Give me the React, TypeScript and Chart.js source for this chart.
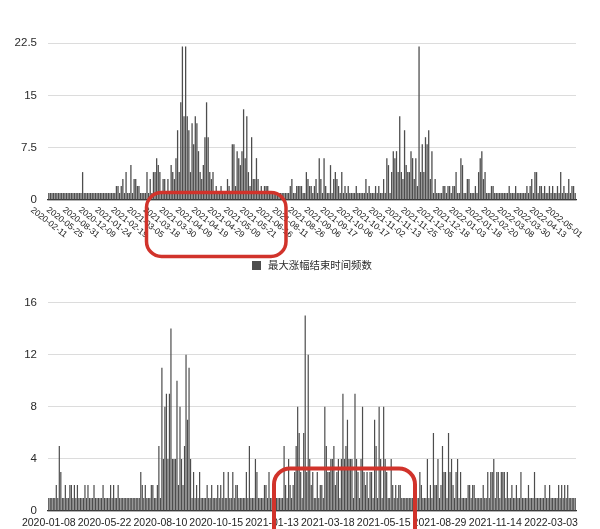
import React, { useEffect, useRef } from 'react';
import { Chart, registerables } from 'chart.js';

Chart.register(...registerables);

// ---------- data ----------
const seriesName = '最大涨幅结束时间频数';

const topTickLabels = [
  '2020-02-11', '2020-05-25', '2020-08-31', '2020-12-09', '2021-01-24', '2021-02-19',
  '2021-03-05', '2021-03-18', '2021-03-30', '2021-04-09', '2021-04-19', '2021-04-29',
  '2021-05-09', '2021-05-21', '2021-06-16', '2021-08-11', '2021-08-26', '2021-09-06',
  '2021-09-17', '2021-10-06', '2021-10-17', '2021-11-02', '2021-11-13', '2021-11-25',
  '2021-12-05', '2021-12-18', '2022-01-03', '2022-01-18', '2022-02-20', '2022-03-08',
  '2022-03-30', '2022-04-13', '2022-05-01',
];
const topTickEvery = 10;
const topValues = [
  1, 1, 1, 1, 1, 1, 1, 1, 1, 1, 1, 1, 1, 1, 1, 1, 1, 1, 1, 1,
  1, 4, 1, 1, 1, 1, 1, 1, 1, 1, 1, 1, 1, 1, 1, 1, 1, 1, 1, 1,
  1, 1, 2, 2, 1, 2, 3, 1, 4, 1, 1, 5, 1, 3, 3, 2, 2, 1, 1, 1,
  1, 4, 1, 3, 1, 4, 4, 6, 5, 4, 1, 3, 3, 1, 3, 1, 5, 4, 3, 6,
  10, 4, 14, 22, 12, 22, 12, 10, 4, 11, 8, 12, 11, 7, 4, 3, 5, 9, 14, 9,
  4, 3, 4, 1, 2, 1, 1, 2, 1, 1, 1, 3, 2, 1, 8, 8, 2, 7, 6, 5,
  7, 13, 6, 12, 4, 2, 9, 3, 3, 6, 3, 1, 2, 1, 2, 2, 2, 1, 1, 1,
  1, 1, 1, 1, 1, 1, 1, 1, 1, 1, 2, 3, 1, 1, 2, 2, 2, 2, 1, 1,
  4, 3, 2, 2, 1, 2, 3, 1, 6, 3, 1, 6, 2, 1, 1, 5, 1, 3, 4, 3,
  2, 1, 4, 1, 2, 1, 2, 1, 1, 1, 1, 2, 1, 1, 1, 1, 1, 3, 1, 2,
  1, 1, 1, 2, 1, 2, 1, 1, 3, 1, 6, 5, 1, 4, 7, 6, 7, 4, 12, 4,
  3, 10, 5, 4, 4, 7, 6, 3, 6, 2, 22, 4, 8, 4, 9, 8, 10, 3, 7, 1,
  3, 1, 1, 1, 1, 2, 2, 1, 2, 2, 1, 2, 2, 4, 1, 1, 6, 5, 1, 1,
  3, 3, 1, 1, 1, 2, 1, 4, 6, 7, 3, 4, 1, 1, 1, 2, 2, 1, 1, 1,
  1, 1, 1, 1, 1, 1, 2, 1, 1, 1, 2, 1, 1, 1, 1, 1, 1, 2, 1, 2,
  3, 1, 4, 4, 1, 2, 2, 1, 2, 1, 1, 2, 1, 2, 1, 1, 2, 1, 4, 1,
  2, 1, 1, 3, 1, 2, 2, 1,
];
const topYTicks = { max: 22.5, step: 7.5 };

const bottomTickLabels = [
  '2020-01-08', '2020-05-22', '2020-08-10', '2020-10-15', '2021-01-13',
  '2021-03-18', '2021-05-15', '2021-08-29', '2021-11-14', '2022-03-03',
];
const bottomTickEvery = 37;
const bottomValues = [
  1, 1, 1, 1, 1, 2, 1, 5, 3, 1, 1, 2, 1, 1, 2, 2, 1, 2, 1, 2,
  1, 1, 1, 1, 2, 1, 2, 1, 1, 1, 2, 1, 1, 1, 1, 1, 2, 1, 1, 1,
  1, 2, 1, 2, 1, 1, 2, 1, 1, 1, 1, 1, 1, 1, 1, 1, 1, 1, 1, 1,
  1, 3, 2, 1, 2, 1, 1, 1, 2, 2, 1, 1, 2, 5, 1, 11, 4, 8, 9, 4,
  9, 14, 4, 4, 4, 10, 2, 8, 4, 2, 5, 12, 7, 11, 4, 1, 3, 1, 2, 1,
  3, 1, 1, 1, 1, 2, 1, 1, 2, 1, 1, 1, 2, 1, 2, 1, 3, 1, 1, 3,
  1, 1, 3, 1, 2, 2, 1, 1, 1, 1, 1, 3, 1, 5, 1, 1, 1, 4, 3, 1,
  1, 1, 1, 2, 2, 1, 3, 1, 1, 1, 1, 1, 1, 1, 1, 1, 5, 2, 1, 4,
  2, 1, 2, 3, 5, 8, 6, 3, 1, 6, 15, 3, 12, 4, 2, 3, 1, 1, 3, 1,
  2, 2, 1, 8, 5, 3, 3, 4, 4, 5, 2, 3, 4, 1, 4, 9, 4, 5, 7, 4,
  4, 4, 1, 9, 4, 3, 1, 4, 8, 3, 2, 3, 1, 3, 3, 1, 7, 5, 1, 8,
  4, 1, 8, 4, 3, 1, 1, 4, 2, 1, 2, 1, 2, 2, 1, 1, 1, 1, 1, 1,
  1, 1, 1, 1, 1, 1, 3, 2, 1, 1, 1, 4, 1, 2, 1, 6, 2, 2, 4, 1,
  2, 5, 3, 3, 1, 6, 3, 4, 2, 1, 3, 4, 1, 3, 1, 1, 1, 1, 2, 2,
  1, 2, 2, 1, 1, 1, 1, 1, 2, 1, 1, 3, 1, 3, 3, 4, 1, 3, 3, 1,
  3, 3, 3, 1, 3, 1, 1, 2, 1, 1, 2, 1, 1, 3, 1, 1, 1, 1, 2, 1,
  1, 1, 3, 1, 1, 1, 1, 1, 1, 2, 1, 1, 2, 1, 1, 1, 1, 1, 2, 1,
  2, 1, 2, 1, 2, 1, 1, 1, 1, 1,
];
const bottomYTicks = { max: 16, step: 4 };

// ---------- styling ----------
const BAR_COLOR = '#4d4d4d';
const TEXT_COLOR = '#2b2b2b';
const GRID_COLOR = '#dcdcdc';
const RED = '#d1332b';
const LATIN = '"Liberation Sans", Arial, Helvetica, sans-serif';
const CJK = '"Noto Sans CJK SC", "Noto Sans", sans-serif';

function categoryLabels(values: number[], ticks: string[], every: number): string[] {
  return values.map((_, i) => (i % every === 0 && ticks[i / every] ? ticks[i / every] : ''));
}

function roundRectPath(ctx: CanvasRenderingContext2D, x: number, y: number, w: number, h: number, r: number) {
  ctx.beginPath();
  ctx.moveTo(x + r, y);
  ctx.lineTo(x + w - r, y);
  ctx.arcTo(x + w, y, x + w, y + r, r);
  ctx.lineTo(x + w, y + h - r);
  ctx.arcTo(x + w, y + h, x + w - r, y + h, r);
  ctx.lineTo(x + r, y + h);
  ctx.arcTo(x, y + h, x, y + h - r, r);
  ctx.lineTo(x, y + r);
  ctx.arcTo(x, y, x + r, y, r);
  ctx.closePath();
}

function baseOptions(yMax: number, yStep: number, padTop: number, padBottom: number) {
  return {
    responsive: false,
    animation: false as const,
    layout: { padding: { left: 0, right: 24, top: padTop, bottom: padBottom } },
    plugins: { legend: { display: false }, tooltip: { enabled: false } },
    scales: {
      x: {
        type: 'category' as const,
        grid: { display: false, drawTicks: false },
        border: { display: true, color: '#333333', width: 1.3 },
        ticks: { display: false },
        afterFit: (s: any) => { s.height = 0; },
      },
      y: {
        min: 0,
        max: yMax,
        grid: { color: GRID_COLOR, drawTicks: false, lineWidth: 1 },
        border: { display: false },
        ticks: {
          stepSize: yStep,
          padding: 11,
          color: TEXT_COLOR,
          font: { family: LATIN, size: 11.5 },
        },
        afterFit: (s: any) => { s.width = 48; },
      },
    },
  };
}

function barDataset(values: number[]) {
  return {
    label: seriesName,
    data: values,
    backgroundColor: BAR_COLOR,
    borderWidth: 0,
    barPercentage: 0.8,
    categoryPercentage: 1,
  };
}

const topDecor = {
  id: 'topDecor',
  afterDraw(chart: any) {
    const ctx: CanvasRenderingContext2D = chart.ctx;
    const xs = chart.scales.x;
    ctx.save();
    // rotated x tick labels
    ctx.fillStyle = '#222';
    ctx.font = `8.6px ${LATIN}`;
    ctx.textAlign = 'center';
    ctx.textBaseline = 'middle';
    topTickLabels.forEach((t, k) => {
      const x = xs.getPixelForValue(k * topTickEvery);
      ctx.save();
      ctx.translate(x, 222.5);
      ctx.rotate((38 * Math.PI) / 180);
      ctx.fillText(t, 0, 0);
      ctx.restore();
    });
    // legend
    ctx.fillStyle = BAR_COLOR;
    ctx.fillRect(252, 261, 9, 9);
    ctx.fillStyle = TEXT_COLOR;
    ctx.font = `10.4px ${CJK}`;
    ctx.textAlign = 'left';
    ctx.textBaseline = 'middle';
    ctx.fillText(seriesName, 268, 265.5);
    // red highlight
    ctx.strokeStyle = RED;
    ctx.lineWidth = 3.5;
    roundRectPath(ctx, 146.5, 192.5, 139.5, 64, 15);
    ctx.stroke();
    ctx.restore();
  },
};

const bottomDecor = {
  id: 'bottomDecor',
  afterDraw(chart: any) {
    const ctx: CanvasRenderingContext2D = chart.ctx;
    const xs = chart.scales.x;
    ctx.save();
    ctx.fillStyle = '#1e1e1e';
    ctx.font = `10.5px ${LATIN}`;
    ctx.textAlign = 'center';
    ctx.textBaseline = 'middle';
    bottomTickLabels.forEach((t, k) => {
      const x = xs.getPixelForValue(k * bottomTickEvery);
      ctx.fillText(t, x, 243.5);
    });
    ctx.strokeStyle = RED;
    ctx.lineWidth = 4;
    roundRectPath(ctx, 274, 188.5, 141, 110, 16);
    ctx.stroke();
    ctx.restore();
  },
};

export default function App() {
  const topRef = useRef<HTMLCanvasElement>(null);
  const bottomRef = useRef<HTMLCanvasElement>(null);

  useEffect(() => {
    const top = new Chart(topRef.current as HTMLCanvasElement, {
      type: 'bar',
      data: {
        labels: categoryLabels(topValues, topTickLabels, topTickEvery),
        datasets: [barDataset(topValues)],
      },
      options: baseOptions(topYTicks.max, topYTicks.step, 43, 80) as any,
      plugins: [topDecor],
    });
    const bottom = new Chart(bottomRef.current as HTMLCanvasElement, {
      type: 'bar',
      data: {
        labels: categoryLabels(bottomValues, bottomTickLabels, bottomTickEvery),
        datasets: [barDataset(bottomValues)],
      },
      options: baseOptions(bottomYTicks.max, bottomYTicks.step, 22.5, 16) as any,
      plugins: [bottomDecor],
    });
    return () => {
      top.destroy();
      bottom.destroy();
    };
  }, []);

  return (
    <div style={{ position: 'absolute', left: 0, top: 0, width: 600, height: 529, overflow: 'hidden', background: '#fff' }}>
      <canvas ref={topRef} width={600} height={280} style={{ display: 'block', width: 600, height: 280 }} />
      <canvas ref={bottomRef} width={600} height={249} style={{ display: 'block', width: 600, height: 249 }} />
    </div>
  );
}
